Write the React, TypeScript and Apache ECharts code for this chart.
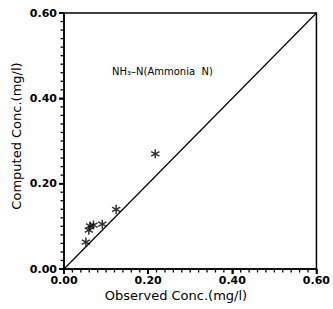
import React, { useEffect, useRef } from "react";
import * as echarts from "echarts";

const observed = [0.052, 0.059, 0.062, 0.07, 0.091, 0.124, 0.217];
const computed = [0.063, 0.091, 0.101, 0.103, 0.105, 0.14, 0.27];
const lineX = [0, 0.6];
const tickLabels = ["0.00", "0.20", "0.40", "0.60"];
const tickValues = [
  0, 0.02, 0.04, 0.06, 0.08, 0.1, 0.12, 0.14, 0.16, 0.18, 0.2, 0.22, 0.24, 0.26, 0.28, 0.3,
  0.32, 0.34, 0.36, 0.38, 0.4, 0.42, 0.44, 0.46, 0.48, 0.5, 0.52, 0.54, 0.56, 0.58, 0.6,
];
const xTitle = "Observed Conc.(mg/l)";
const yTitle = "Computed Conc.(mg/l)";
const note = "NH₃–N(Ammonia  N)";

const star =
  "path://M5.8 0L4.2 0L4.2 10L5.8 10Z" +
  "M8.93 8.19L9.73 6.81L1.07 1.81L0.27 3.19Z" +
  "M0.27 6.81L1.07 8.19L9.73 3.19L8.93 1.81Z";

export default function App() {
  const ref = useRef<HTMLDivElement>(null);
  useEffect(() => {
    const chart = echarts.init(ref.current!, null, { renderer: "svg" });
    const fmt = (v: number) => tickLabels[Math.round(v / 0.2)] ?? "";
    const label = {
      formatter: fmt,
      color: "#000",
      fontFamily: "DejaVu Sans",
      fontSize: 11,
      fontWeight: "bold",
    };
    const mainAxis = {
      type: "value",
      min: 0,
      max: 0.6,
      interval: 0.2,
      splitLine: { show: false },
      axisLine: { show: true, onZero: false, lineStyle: { color: "#000", width: 1.5 } },
      axisTick: { show: true, inside: false, length: 5, lineStyle: { color: "#000", width: 1.5 } },
    };
    chart.setOption({
      animation: false,
      backgroundColor: "#fff",
      grid: {
        left: 64,
        right: 11,
        top: 13,
        bottom: 40,
        show: true,
        borderColor: "#000",
        borderWidth: 1.5,
        backgroundColor: "transparent",
      },
      xAxis: { ...mainAxis, axisLabel: { ...label, margin: 6 } },
      yAxis: { ...mainAxis, axisLabel: { ...label, margin: 7 } },
      graphic: [
        {
          type: "text",
          x: 176,
          y: 295,
          style: {
            text: xTitle,
            fill: "#000000",
            fontFamily: "DejaVu Sans",
            fontSize: 13,
            align: "center",
            verticalAlign: "middle",
          },
        },
        {
          type: "text",
          x: 16,
          y: 136,
          rotation: Math.PI / 2,
          style: {
            text: yTitle,
            fill: "#000000",
            fontFamily: "DejaVu Sans",
            fontSize: 13,
            align: "center",
            verticalAlign: "middle",
          },
        },
        {
          type: "text",
          x: 112,
          y: 71,
          style: {
            text: note,
            fill: "#000000",
            fontFamily: "DejaVu Sans",
            fontSize: 10,
            align: "left",
            verticalAlign: "middle",
          },
        },
      ],
      series: [
        {
          type: "custom",
          clip: false,
          silent: true,
          z: 10,
          data: tickValues.map((t) => [t, t]),
          renderItem: (params: any, api: any) => {
            const t = api.value(0);
            const major = params.dataIndex % 10 === 0;
            const len = major ? 5 : 3.5;
            const w = major ? 1.6 : 1.3;
            const px = api.coord([t, 0]);
            const py = api.coord([0, t]);
            return {
              type: "group",
              children: [
                {
                  type: "rect",
                  shape: { x: px[0] - w / 2, y: px[1], width: w, height: len },
                  style: { fill: "#000" },
                },
                {
                  type: "rect",
                  shape: { x: py[0] - len, y: py[1] - w / 2, width: len, height: w },
                  style: { fill: "#000" },
                },
              ],
            };
          },
        },
        {
          type: "line",
          data: lineX.map((v) => [v, v]),
          symbol: "none",
          lineStyle: { color: "#000", width: 1.2 },
        },
        {
          type: "scatter",
          data: observed.map((v, i) => [v, computed[i]]),
          symbol: star,
          symbolSize: 9,
          itemStyle: { color: "#000" },
        },
      ],
    });
    return () => chart.dispose();
  }, []);
  return (
    <div
      ref={ref}
      style={{ position: "fixed", left: 0, top: 0, width: 333, height: 309 }}
    />
  );
}
